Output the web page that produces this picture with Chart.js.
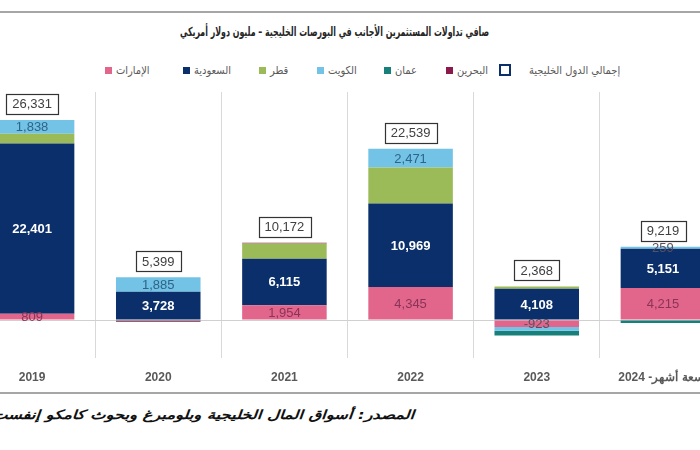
<!DOCTYPE html>
<html>
<head>
<meta charset="utf-8">
<script src="https://cdn.jsdelivr.net/npm/chart.js@4.4.1/dist/chart.umd.min.js"></script>
<style>
  html,body{margin:0;padding:0;width:700px;height:450px;overflow:hidden;background:#fff;position:relative;}
  .hline{position:absolute;left:0;width:700px;height:2px;background:#a6a6a6;}
  #title{position:absolute;top:24px;white-space:nowrap;font-family:"DejaVu Sans Condensed","DejaVu Sans",sans-serif;font-weight:bold;font-size:12.5px;color:#262626;direction:rtl;transform-origin:0 50%;}
  #source{position:absolute;top:407px;white-space:nowrap;font-family:"DejaVu Sans Condensed","DejaVu Sans",sans-serif;font-weight:bold;font-style:italic;font-size:12.5px;color:#111;direction:rtl;transform-origin:0 50%;}
  .leg{position:absolute;top:63px;height:14px;display:flex;align-items:center;font-family:"DejaVu Sans Condensed","DejaVu Sans",sans-serif;font-size:11px;color:#595959;white-space:nowrap;}
  .leg .mk{display:inline-block;width:7px;height:7px;margin-right:4px;box-sizing:border-box;}
  #wrap{position:absolute;left:-31px;top:0;width:757px;height:392px;}
</style>
</head>
<body>
<div class="hline" style="top:11px"></div>
<div class="hline" style="top:392px"></div>
<div id="title">صافي تداولات المستثمرين الأجانب في البورصات الخليجية – مليون دولار أمريكي</div>
<div id="legend"></div>
<div id="wrap"><canvas id="c"></canvas></div>
<div id="source">المصدر: أسواق المال الخليجية وبلومبرغ وبحوث كامكو إنفست</div>
<script>
// ---- data ----
const categories = ['2019','2020','2021','2022','2023','تسعة أشهر- 2024'];
const uae     = [809,    0,    1954, 4345,  -923, 4215];
const saudi   = [22401,  3728, 6115, 10969, 4108, 5151];
const qatar   = [1283,   0,    1983, 4754,  300,  0];
const kuwait  = [1838,   1885, 0,    2471,  -500, 259];
const oman    = [0,      -114, 0,    0,     -617, -406];
const bahrain = [0,      -100, 120,  0,     0,    0];
const totals  = [26331, 5399, 10172, 22539, 2368, 9219];
const seriesNames = ['الإمارات','السعودية','قطر','الكويت','عمان','البحرين'];
const totalName = 'إجمالي الدول الخليجية';

const colors = ['#e2668c','#0b2f6b','#9bbb59','#72c3e6','#17807a','#8b1a4a'];
const labelColors = {0:'#8a3458',1:'#ffffff',3:'#2f6487'};
const seriesData = [uae,saudi,qatar,kuwait,oman,bahrain];

// legend (HTML)
const legendX = [105,183,259,317,384,446];
const legend = document.getElementById('legend');
seriesNames.forEach((n,i)=>{
  const d=document.createElement('div');d.className='leg';d.style.left=legendX[i]+'px';
  d.innerHTML='<span class="mk" style="background:'+colors[i]+'"></span><span dir="rtl">'+n+'</span>';
  legend.appendChild(d);
});
{
  const d=document.createElement('div');d.className='leg';d.style.left='499px';
  d.innerHTML='<span class="mk" style="width:12px;height:12px;border:2.5px solid #0b2f6b;background:#fff;margin-right:18px"></span><span dir="rtl">'+totalName+'</span>';
  legend.appendChild(d);
}

// fit title and source
function fit(el, left, right){
  const w = el.offsetWidth; const target = right-left;
  el.style.left = left + 'px';
  el.style.transform = 'scaleX(' + (target / w) + ')';
}
fit(document.getElementById('title'),180,489);
fit(document.getElementById('source'),-8,414);

const fmt = v => v.toLocaleString('en-US');

const labelPlugin = {
  id:'segLabels',
  afterDatasetsDraw(chart){
    const ctx = chart.ctx;
    ctx.save();
    ctx.textAlign='center'; ctx.textBaseline='middle';
    [0,1,3].forEach(di=>{
      const meta = chart.getDatasetMeta(di);
      const ds = chart.data.datasets[di].data;
      meta.data.forEach((bar,i)=>{
        const v = ds[i];
        if(!v) return;
        if(v<0 && di!==0) return;
        const y=(bar.y+bar.base)/2;
        ctx.font = (di===1?'bold ':'')+'13px "Liberation Sans", Arial, sans-serif';
        ctx.fillStyle = v<0 || (di===3 && v<500) ? '#5a5060' : labelColors[di];
        ctx.fillText(fmt(v), bar.x, y+1);
      });
    });
    // total boxes
    const ys = chart.scales.y;
    totals.forEach((t,i)=>{
      let top = ys.getPixelForValue(0);
      chart.data.datasets.forEach((d,di)=>{
        const b = chart.getDatasetMeta(di).data[i];
        if(d.data[i]>0) top = Math.min(top, b.y);
      });
      const x = chart.scales.x.getPixelForValue(i);
      ctx.font = '13px "Liberation Sans", Arial, sans-serif';
      const txt = fmt(t);
      const w = ctx.measureText(txt).width + 12;
      const h = 20;
      const by = top - 6 - h;
      ctx.fillStyle='#fff';
      ctx.fillRect(Math.round(x-w/2)+0.5, Math.round(by)+0.5, Math.round(w), h);
      ctx.strokeStyle='#333'; ctx.lineWidth=1.2;
      ctx.strokeRect(Math.round(x-w/2)+0.5, Math.round(by)+0.5, Math.round(w), h);
      ctx.fillStyle='#404040';
      ctx.fillText(txt, x, by+h/2+1);
    });
    ctx.restore();
  }
};

new Chart(document.getElementById('c'), {
  type:'bar',
  data:{
    labels:categories,
    datasets: seriesData.map((d,i)=>({
      label:seriesNames[i], data:d, backgroundColor:colors[i], borderWidth:0,
      barPercentage:0.67, categoryPercentage:1.0
    }))
  },
  options:{
    responsive:true, maintainAspectRatio:false, animation:false,
    layout:{padding:{top:92,left:0,right:0,bottom:0}},
    plugins:{legend:{display:false}, title:{display:false}, tooltip:{enabled:false}},
    scales:{
      x:{stacked:true,
         grid:{display:true, offset:true, color:'#d9d9d9', lineWidth:1, drawTicks:false},
         border:{display:false},
         ticks:{padding:12, color:'#595959', font:{family:'"Liberation Sans", Arial, sans-serif', size:12, weight:'bold'}, maxRotation:0, autoSkip:false},
         afterFit:s=>{s.height=34;}
      },
      y:{stacked:true, min:-5000, max:30000,
         ticks:{display:false, stepSize:5000},
         grid:{drawTicks:false, color:c=> c.tick && c.tick.value===0 ? '#d0d0d0' : 'rgba(0,0,0,0)'},
         border:{display:false},
         afterFit:s=>{s.width=0;}
      }
    }
  },
  plugins:[labelPlugin]
});
</script>
</body>
</html>
